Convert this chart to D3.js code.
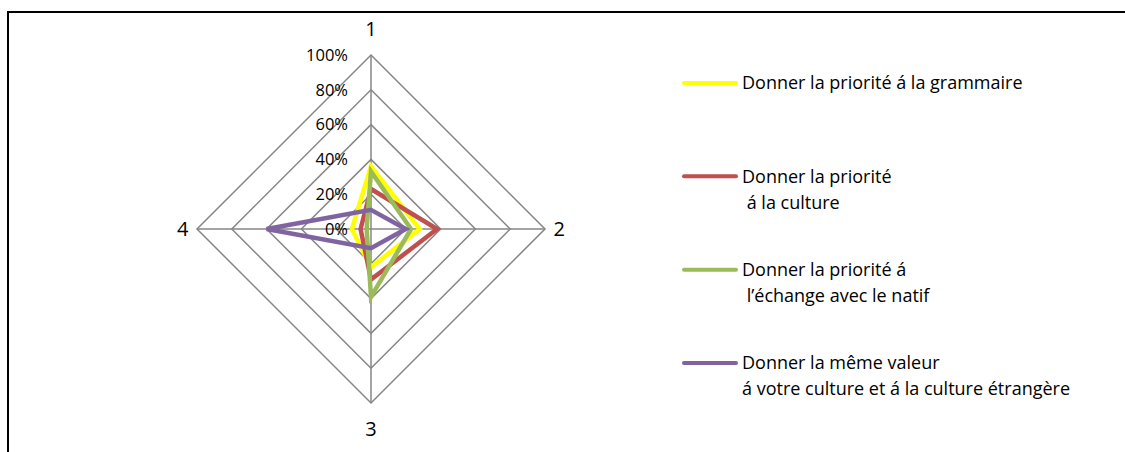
<!DOCTYPE html>
<html>
<head>
<meta charset="utf-8">
<script src="https://cdn.jsdelivr.net/npm/d3@7"></script>
<style>
	html, body { margin: 0; padding: 0; background: #fff; }
	svg { display: block; font-family: "Open Sans", Lato, sans-serif; }
</style>
</head>
<body>
<svg id="chart" width="1125" height="452"></svg>
<script>
// axes of the radar, clockwise from top
const axes = ['1', '2', '3', '4'];
const ticks = [0, 0.2, 0.4, 0.6, 0.8, 1];

// one value per axis
const grammaire = [0.36, 0.28, 0.22, 0.11];
const culture = [0.23, 0.38, 0.29, 0.06];
const echange = [0.33, 0.23, 0.39, 0.025];
const memeValeur = [0.11, 0.20, 0.11, 0.60];

const seriesNames = [
	['Donner la priorité á la grammaire'],
	['Donner la priorité', ' á la culture'],
	['Donner la priorité á', ' l\u2019échange avec le natif'],
	['Donner la même valeur', 'á votre culture et á la culture étrangère'],
];
const seriesValues = [grammaire, culture, echange, memeValeur];
const seriesColors = ['#FFFF00', '#C0504D', '#9BBB59', '#8064A2'];

const CX = 371, CY = 229, R = 174;

const svg = d3.select('#chart');

// frame (only top and left edges show)
svg.append('path')
	.attr('d', 'M8,452 L8,12 L1125,12')
	.attr('fill', 'none').attr('stroke', '#000').attr('stroke-width', 2);

const r = d3.scaleLinear().domain([0, 1]).range([0, R]);
const angle = d3.scalePoint().domain(axes).range([0, 2 * Math.PI * 3 / 4]);
const pt = (a, v) => [Math.sin(angle(a)) * r(v), -Math.cos(angle(a)) * r(v)];

const g = svg.append('g').attr('transform', `translate(${CX},${CY})`);

// grid rings
const ring = d3.line().curve(d3.curveLinearClosed);
g.selectAll('path.ring').data(ticks.filter(t => t > 0)).join('path')
	.attr('class', 'ring')
	.attr('d', t => ring(axes.map(a => pt(a, t))))
	.attr('fill', 'none').attr('stroke', '#868686').attr('stroke-width', 1.5);

// spokes
g.selectAll('line.spoke').data(axes).join('line')
	.attr('class', 'spoke')
	.attr('x1', 0).attr('y1', 0)
	.attr('x2', a => pt(a, 1)[0]).attr('y2', a => pt(a, 1)[1])
	.attr('stroke', '#868686').attr('stroke-width', 1.5);

// tick labels along axis 1
g.selectAll('text.tick').data(ticks).join('text')
	.attr('class', 'tick')
	.attr('x', -23).attr('y', t => -r(t)).attr('dy', '0.35em')
	.attr('text-anchor', 'end').attr('font-size', 16.5).attr('fill', '#000')
	.text(d3.format('.0%'));

// axis labels
const labelOff = 26;
g.selectAll('text.axis').data(axes).join('text')
	.attr('class', 'axis')
	.attr('x', a => pt(a, 1)[0] + Math.sin(angle(a)) * labelOff * 0.55)
	.attr('y', a => pt(a, 1)[1] - Math.cos(angle(a)) * labelOff)
	.attr('dy', '0.35em').attr('text-anchor', 'middle')
	.attr('font-size', 20).attr('fill', '#000')
	.text(a => a);

// series polygons
g.selectAll('path.series').data(seriesValues).join('path')
	.attr('class', 'series')
	.attr('d', vals => ring(axes.map((a, i) => pt(a, vals[i]))))
	.attr('fill', 'none')
	.attr('stroke', (d, i) => seriesColors[i])
	.attr('stroke-width', 4.5).attr('stroke-linejoin', 'miter');

// legend
const legendY = d3.scalePoint().domain(d3.range(seriesNames.length)).range([83, 363]);
const lg = svg.append('g').selectAll('g').data(seriesNames).join('g')
	.attr('transform', (d, i) => `translate(0,${legendY(i)})`);
lg.append('line')
	.attr('x1', 684).attr('x2', 736).attr('y1', 0).attr('y2', 0)
	.attr('stroke', (d, i) => seriesColors[i]).attr('stroke-width', 4).attr('stroke-linecap', 'round');
lg.append('text')
	.attr('x', 742).attr('font-size', 18).attr('fill', '#000')
	.attr('xml:space', 'preserve').style('white-space', 'pre')
	.selectAll('tspan').data(d => d).join('tspan')
	.attr('x', 742).attr('y', (d, j) => j * 26).attr('dy', '0.35em')
	.text(d => d);
</script>
</body>
</html>
